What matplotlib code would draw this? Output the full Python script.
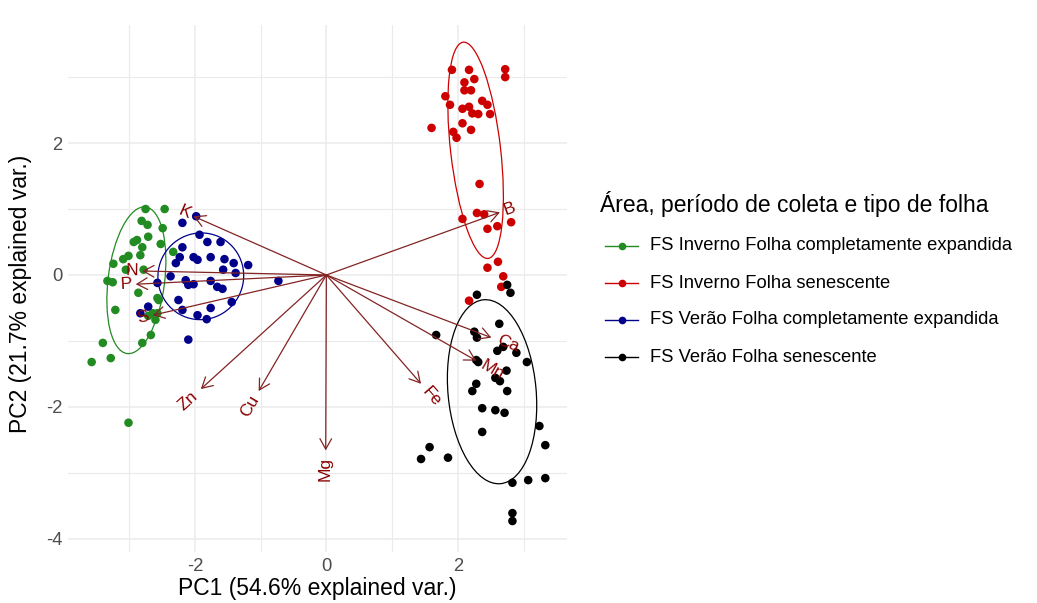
import numpy as np
import matplotlib
matplotlib.use("Agg")
import matplotlib.pyplot as plt
from matplotlib.patches import Ellipse
from matplotlib.lines import Line2D

plt.rcParams['font.family'] = ['Liberation Sans', 'DejaVu Sans']

# ---------------- data ----------------
groups = ["FS Inverno Folha completamente expandida",
          "FS Inverno Folha senescente",
          "FS Verão Folha completamente expandida",
          "FS Verão Folha senescente"]
colors = ["#228B22", "#CD0000", "#00008B", "#000000"]

green_x = [-2.75, -2.46, -2.81, -2.72, -2.49, -2.71, -2.93, -2.88, -2.80, -2.52,
           -3.24, -3.09, -3.01, -2.83, -2.78, -3.33, -3.25, -3.05, -2.86, -2.57,
           -2.33, -3.21, -2.64, -2.57, -2.60, -2.67, -2.80, -3.40, -3.28, -3.57,
           -3.01, -2.55, -2.71]
green_y = [1.00, 1.00, 0.82, 0.76, 0.71, 0.58, 0.50, 0.53, 0.42, 0.47,
           0.17, 0.24, 0.29, 0.30, 0.08, -0.09, -0.11, 0.08, -0.27, -0.35,
           0.35, -0.53, -0.58, -0.58, -0.68, -0.91, -1.03, -1.03, -1.26, -1.32,
           -2.24, -0.38, -0.62]

red_x = [1.91, 2.17, 2.72, 2.72, 2.10, 2.25, 2.10, 2.20, 1.81, 1.88,
         2.37, 2.45, 2.07, 2.17, 2.22, 2.31, 2.49, 1.60, 2.07, 2.20,
         1.93, 1.98, 2.33, 2.29, 2.40, 2.07, 2.45, 2.60, 2.81, 2.61,
         2.45, 2.69, 2.66, 2.17]
red_y = [3.11, 3.11, 3.12, 3.00, 2.92, 2.97, 2.80, 2.80, 2.71, 2.58,
         2.64, 2.58, 2.52, 2.55, 2.45, 2.44, 2.44, 2.23, 2.30, 2.20,
         2.17, 2.08, 1.38, 0.94, 0.92, 0.85, 0.70, 0.74, 0.80, 0.20,
         0.11, -0.02, -0.18, -0.39]

blue_x = [-1.98, -2.19, -1.93, -1.81, -1.61, -2.19, -2.23, -2.02, -1.96, -1.76,
          -1.55, -1.41, -1.19, -2.29, -1.57, -1.38, -2.37, -2.57, -2.14, -2.10,
          -2.02, -1.76, -1.66, -1.58, -2.25, -1.44, -2.19, -1.96, -1.82, -1.76,
          -2.83, -2.71, -2.10, -0.73]
blue_y = [0.89, 0.79, 0.61, 0.50, 0.50, 0.42, 0.27, 0.27, 0.23, 0.27,
          0.24, 0.18, 0.15, 0.18, 0.08, 0.03, -0.02, -0.12, -0.08, -0.15,
          -0.14, -0.09, -0.18, -0.21, -0.38, -0.41, -0.53, -0.61, -0.67, -0.50,
          -0.58, -0.48, -0.98, -0.09]

black_x = [2.75, 2.80, 2.29, 2.63, 1.67, 2.25, 2.29, 2.60, 2.69, 2.89,
           3.05, 2.28, 2.31, 2.74, 2.57, 2.64, 2.28, 2.22, 2.75, 2.37,
           2.57, 2.71, 2.37, 3.24, 3.33, 1.57, 1.44, 1.85, 2.83, 3.07,
           3.33, 2.83, 2.83]
black_y = [-0.15, -0.27, -0.30, -0.74, -0.91, -0.86, -0.95, -1.15, -1.09, -1.18,
           -1.32, -1.29, -1.32, -1.45, -1.56, -1.61, -1.65, -1.76, -1.76, -2.02,
           -2.05, -2.09, -2.38, -2.29, -2.58, -2.61, -2.79, -2.77, -3.15, -3.11,
           -3.08, -3.61, -3.73]

points_x = [green_x, red_x, blue_x, black_x]
points_y = [green_y, red_y, blue_y, black_y]

# ellipse parameters per group: centre, semi-major, semi-minor, angle (deg)
ell_cx = [-2.89, 2.27, -1.91, 2.52]
ell_cy = [-0.08, 1.89, -0.02, -1.77]
ell_a = [1.12, 1.65, 0.66, 1.40]
ell_b = [0.43, 0.38, 0.65, 0.67]
ell_ang = [82.8, 96.6, 60.0, 95.3]

# variable loadings (arrow tips)
var_names = ["K", "N", "P", "S", "Zn", "Cu", "Mg", "Fe", "Ca", "Mn", "B"]
var_x = [-2.02, -2.80, -2.90, -2.64, -1.91, -1.03, -0.01, 1.44, 2.51, 2.28, 2.64]
var_y = [0.89, 0.06, -0.14, -0.61, -1.73, -1.76, -2.66, -1.65, -0.95, -1.30, 0.95]

x_ticks = [-2, 0, 2]
y_ticks = [-4, -2, 0, 2]
x_label = "PC1 (54.6% explained var.)"
y_label = "PC2 (21.7% explained var.)"
legend_title = "Área, período de coleta e tipo de folha"

# ---------------- figure ----------------
W, H = 1037, 603
fig = plt.figure(figsize=(W / 100, H / 100), dpi=100)
ax = fig.add_axes([68 / W, 51 / H, 499 / W, 527 / H])
ax.set_xlim(-3.93, 3.66)
ax.set_ylim(-4.20, 3.79)

for s in ax.spines.values():
    s.set_visible(False)
ax.set_xticks(x_ticks)
ax.set_yticks(y_ticks)
ax.set_xticks([-3, -1, 1, 3], minor=True)
ax.set_yticks([-3, -1, 1, 3], minor=True)
ax.grid(True, which='major', color='#EBEBEB', lw=1.1, zorder=0)
ax.grid(True, which='minor', color='#EBEBEB', lw=0.8, zorder=0)
ax.set_axisbelow(True)
ax.tick_params(which='both', length=0)
ax.tick_params(axis='both', labelsize=13.2, labelcolor='#4D4D4D', pad=4)
ax.set_xticklabels([str(t) for t in x_ticks])
ax.set_yticklabels([str(t) for t in y_ticks])
ax.set_xlabel(x_label, fontsize=16.5, labelpad=2)
ax.set_ylabel(y_label, fontsize=16.5)
ax.yaxis.set_label_coords(-0.072, 0.49)

# points
for gx, gy, c in zip(points_x, points_y, colors):
    ax.scatter(gx, gy, s=38, color=c, edgecolors='none', zorder=3)

# ellipses
for cx, cy, a, b, ang, c in zip(ell_cx, ell_cy, ell_a, ell_b, ell_ang, colors):
    ax.add_patch(Ellipse((cx, cy), 2 * a, 2 * b, angle=ang, fill=False,
                         edgecolor=c, lw=0.9, zorder=2))

# arrows
arrow_col = '#832424'
for vx, vy in zip(var_x, var_y):
    ax.annotate('', xy=(vx, vy), xytext=(0, 0),
                arrowprops=dict(arrowstyle='->,head_length=0.75,head_width=0.42',
                                color=arrow_col, lw=0.9, shrinkA=0, shrinkB=0,
                                mutation_scale=10),
                zorder=4)

# variable labels
fs_var = 12.5
for name, vx, vy in zip(var_names, var_x, var_y):
    ang = np.degrees(np.arctan(vy / vx))
    sgn = np.sign(vx)
    d = np.hypot(vx, vy)
    ux, uy = vx / d, vy / d
    gap = 0.25 * 0.62 * len(name) * fs_var + 1.0
    ax.annotate(name, xy=(vx, vy), xytext=(ux * gap, uy * gap),
                textcoords='offset points', rotation=ang,
                rotation_mode='anchor', ha='left' if sgn > 0 else 'right',
                va='center', fontsize=fs_var, color='#8B0000', zorder=5)

# legend (manual)
fig.text(600 / W, 1 - 204 / H, legend_title, ha='left', va='center',
         fontsize=16.5)
for i, (g, c) in enumerate(zip(groups, colors)):
    ypx = 246 + 37 * i
    yf = 1 - ypx / H
    fig.add_artist(Line2D([605 / W, 638 / W], [yf, yf], color=c, lw=1.0,
                          transform=fig.transFigure))
    fig.add_artist(Line2D([621.5 / W], [yf], color=c, marker='o', ms=5.5,
                          mec='none', transform=fig.transFigure))
    fig.text(650 / W, yf, g, ha='left', va='center', fontsize=13.2)

fig.savefig('out.png', dpi=100)
